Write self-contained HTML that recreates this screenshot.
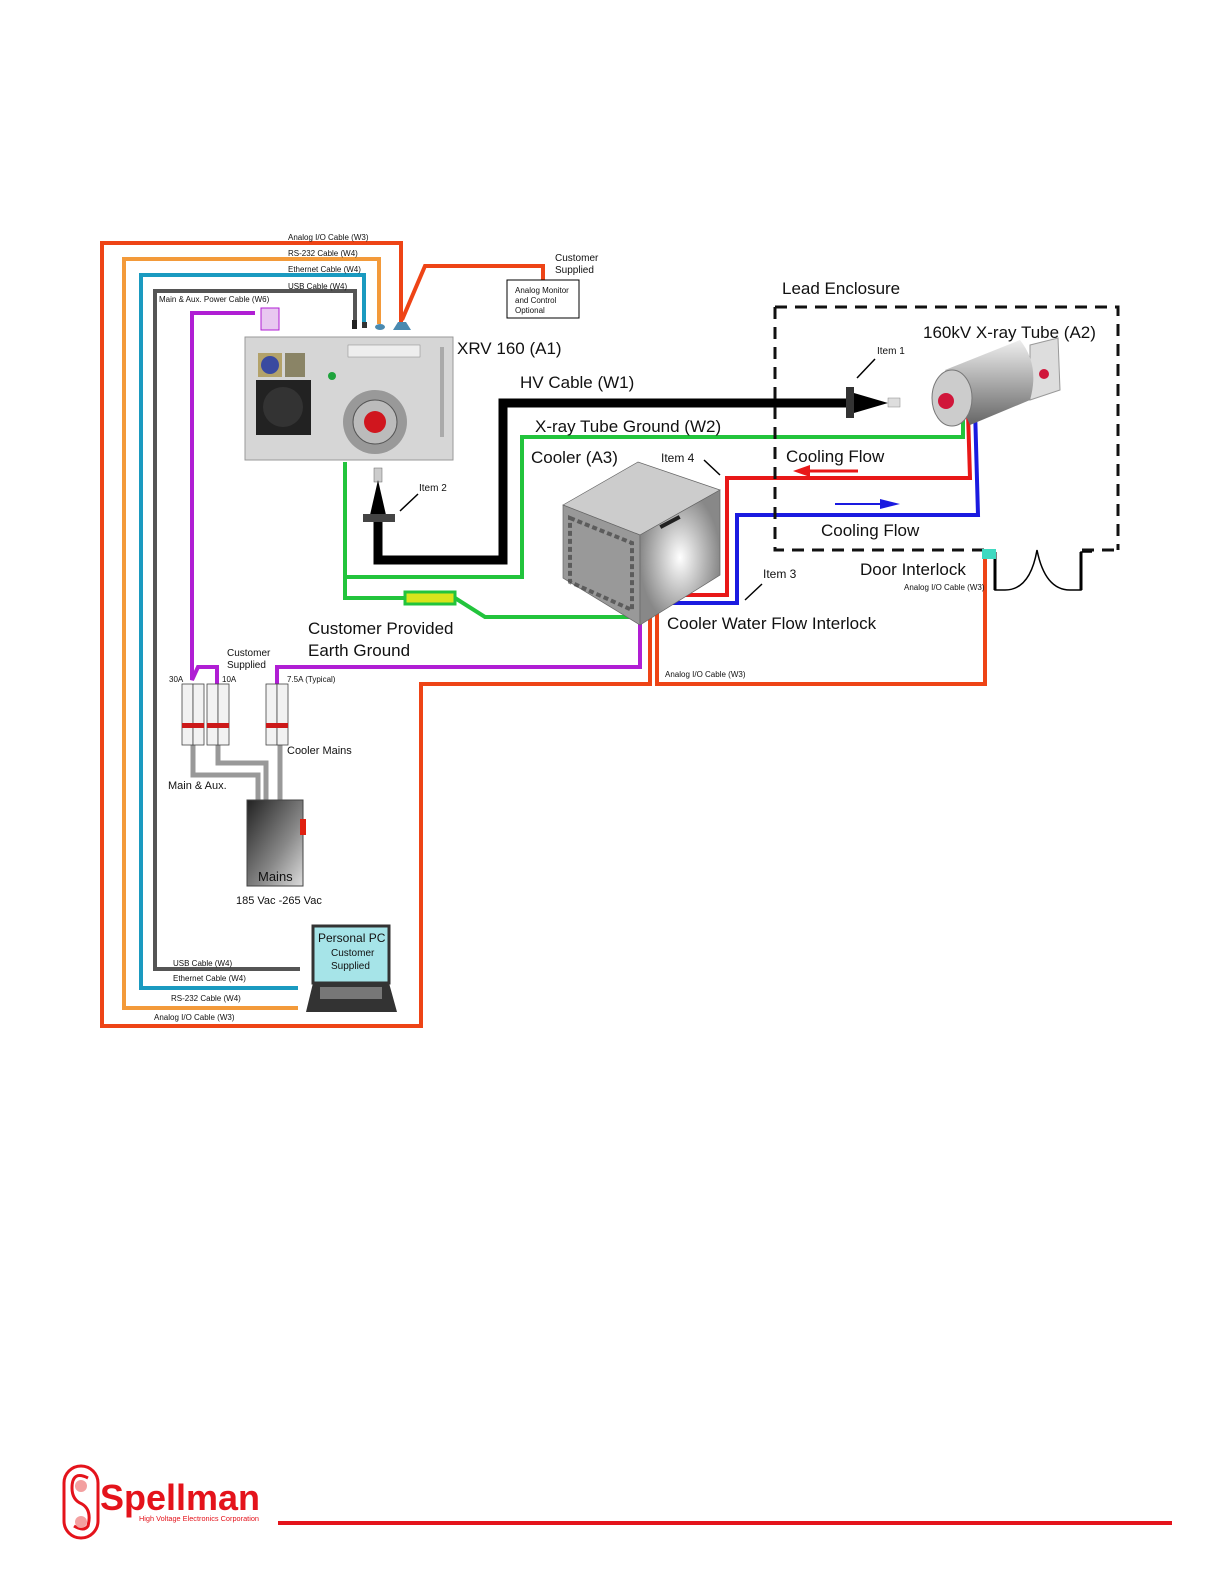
<!DOCTYPE html>
<html><head><meta charset="utf-8"><style>
html,body{margin:0;padding:0;background:#fff;overflow:hidden;width:1224px;height:1584px;}
svg{display:block;}
text{font-family:"Liberation Sans",sans-serif;fill:#111;}
</style></head><body>
<svg width="1224" height="1584" viewBox="0 0 1224 1584" xmlns="http://www.w3.org/2000/svg">
<defs>
<linearGradient id="gd" x1="0" y1="0" x2="1" y2="1"><stop offset="0" stop-color="#222"/><stop offset="0.6" stop-color="#888"/><stop offset="1" stop-color="#ddd"/></linearGradient>
<radialGradient id="rg" cx="0.5" cy="0.5" r="0.5"><stop offset="0" stop-color="#fff"/><stop offset="1" stop-color="#888"/></radialGradient>
<linearGradient id="tube" x1="0" y1="0" x2="0" y2="1"><stop offset="0" stop-color="#eee"/><stop offset="0.5" stop-color="#aaa"/><stop offset="1" stop-color="#666"/></linearGradient>
</defs>

<g fill="none" stroke-linejoin="miter">
<polyline points="401,322 401,243 102,243 102,1026 421,1026 421,684 650,684 650,605" stroke="#ee4416" stroke-width="4"/>
<polyline points="298,1008 124,1008 124,259 379,259 379,324" stroke="#f39a3a" stroke-width="4"/>
<polyline points="298,988 141,988 141,275 364,275 364,324" stroke="#1a9ac0" stroke-width="4"/>
<polyline points="300,969 155,969 155,291 355,291 355,324" stroke="#555" stroke-width="4"/>
<polyline points="255,313 192,313 192,680 198,667 217,667 217,684" stroke="#b01ed4" stroke-width="4"/>
<polyline points="277,684 277,667 640,667 640,588 650,580" stroke="#b01ed4" stroke-width="4"/>
<polyline points="402,320 425,266 543,266 543,281" stroke="#ee4416" stroke-width="4"/>
<polyline points="657,604 657,684 985,684 985,558" stroke="#ee4416" stroke-width="4"/>
<polyline points="378,522 378,560 503,560 503,403 850,403" stroke="#000" stroke-width="9"/>
<polyline points="345,462 345,577 522,577 522,437 963,437 963,420" stroke="#22c43c" stroke-width="4"/>
<polyline points="345,470 345,598 405,598" stroke="#22c43c" stroke-width="4"/>
<polyline points="455,598 485,617 636,617" stroke="#22c43c" stroke-width="4"/>
<polyline points="968,413 970,478 727,478 727,595 665,595" stroke="#e81818" stroke-width="4"/>
<polyline points="975,409 978,515 737,515 737,603 655,603" stroke="#1a1ae0" stroke-width="4"/>
<polyline points="193,745 193,775 258,775 258,800" stroke="#999" stroke-width="5"/>
<polyline points="218,745 218,763 266,763 266,800" stroke="#999" stroke-width="5"/>
<polyline points="280,745 280,800" stroke="#999" stroke-width="5"/>
<path d="M775,307 H1118 V550 M775,307 V550 H990 M1082,550 H1118" stroke="#111" stroke-width="3" stroke-dasharray="12,8"/>
<path d="M995,552 V590 H1005 Q1030,590 1037,550 Q1045,590 1070,590 H1081 V552 H1092" stroke="#000" stroke-width="1.5"/>
<path d="M995,552 V590 M1081,552 V590" stroke="#000" stroke-width="3"/>
</g>
<rect x="405" y="592" width="50" height="12" fill="#d8e41c" stroke="#22c43c" stroke-width="3"/>
<rect x="982" y="549" width="14" height="10" fill="#3fd9c0"/>

<line x1="858" y1="471" x2="805" y2="471" stroke="#e81818" stroke-width="3"/>
<polygon points="793,471 810,465 810,477" fill="#e81818"/>
<line x1="835" y1="504" x2="885" y2="504" stroke="#1a1ae0" stroke-width="2"/>
<polygon points="900,504 880,499 880,509" fill="#1a1ae0"/>

<rect x="245" y="337" width="208" height="123" fill="#d6d6d6" stroke="#999"/>
<rect x="256" y="380" width="55" height="55" fill="#222"/>
<circle cx="283" cy="407" r="20" fill="#333"/>
<rect x="258" y="353" width="24" height="24" fill="#b3a26a"/><circle cx="270" cy="365" r="9" fill="#3a4aa0"/>
<rect x="285" y="353" width="20" height="24" fill="#8a8466"/>
<circle cx="332" cy="376" r="4" fill="#1ea33c"/>
<circle cx="375" cy="422" r="32" fill="#999"/><circle cx="375" cy="422" r="22" fill="#bbb" stroke="#555"/><circle cx="375" cy="422" r="11" fill="#d0161e"/>
<rect x="348" y="345" width="72" height="12" fill="#eee" stroke="#888" stroke-width="0.5"/>
<rect x="440" y="347" width="4" height="90" fill="#aaa"/>
<rect x="352" y="320" width="5" height="9" fill="#222"/><rect x="362" y="322" width="5" height="6" fill="#333"/>
<ellipse cx="380" cy="327" rx="5" ry="3" fill="#4a8ab0"/>
<path d="M393,330 L398,322 L406,322 L411,330 Z" fill="#4a8ab0"/>
<rect x="261" y="308" width="18" height="22" fill="#e8c8f0" stroke="#b01ed4" stroke-width="1"/>

<rect x="374" y="468" width="8" height="14" fill="#ccc" stroke="#666" stroke-width="0.5"/>
<polygon points="378,480 370,515 386,515" fill="#000"/>
<rect x="363" y="514" width="32" height="8" fill="#444"/>
<line x1="400" y1="511" x2="418" y2="494" stroke="#000" stroke-width="1.5"/>
<rect x="846" y="387" width="8" height="31" fill="#333"/>
<polygon points="854,393 888,403 854,413" fill="#000"/>
<rect x="888" y="398" width="12" height="9" fill="#ddd" stroke="#888" stroke-width="0.5"/>
<line x1="857" y1="378" x2="875" y2="359" stroke="#000" stroke-width="1.5"/>
<line x1="704" y1="460" x2="720" y2="475" stroke="#000" stroke-width="1.5"/>
<line x1="745" y1="600" x2="762" y2="584" stroke="#000" stroke-width="1.5"/>

<polygon points="1030,345 1058,338 1060,390 1030,400" fill="#ddd" stroke="#999"/>
<circle cx="1044" cy="374" r="5" fill="#d0163a"/>
<path d="M945,370 L1020,340 Q1040,365 1030,400 L970,425 Z" fill="url(#tube)"/>
<ellipse cx="952" cy="398" rx="20" ry="28" fill="#ccc" stroke="#777"/>
<circle cx="946" cy="401" r="8" fill="#d0163a"/>

<polygon points="563,505 638,462 720,490 720,575 640,625 563,578" fill="#aaa"/>
<polygon points="563,505 638,462 720,490 640,535" fill="#ccc" stroke="#666" stroke-width="0.7"/>
<polygon points="563,505 640,535 640,625 563,578" fill="#999" stroke="#666" stroke-width="0.7"/>
<polygon points="640,535 720,490 720,575 640,625" fill="url(#rg)" stroke="#666" stroke-width="0.7"/>
<polygon points="570,518 632,543 632,610 570,582" fill="none" stroke="#333" stroke-dasharray="5,3" stroke-width="4" opacity="0.6"/>
<rect x="659" y="520" width="22" height="4" fill="#222" transform="rotate(-28 670 522)"/>

<rect x="507" y="280" width="72" height="38" fill="#fff" stroke="#000"/>
<text x="515" y="293" font-size="8">Analog Monitor</text>
<text x="515" y="303" font-size="8">and Control</text>
<text x="515" y="313" font-size="8">Optional</text>

<g stroke="#444" stroke-width="0.8" fill="#f2f2f2">
<rect x="182" y="684" width="11" height="61"/><rect x="193" y="684" width="11" height="61"/>
<rect x="207" y="684" width="11" height="61"/><rect x="218" y="684" width="11" height="61"/>
<rect x="266" y="684" width="11" height="61"/><rect x="277" y="684" width="11" height="61"/>
</g>
<g fill="#cc1a1a"><rect x="182" y="723" width="22" height="5"/><rect x="207" y="723" width="22" height="5"/><rect x="266" y="723" width="22" height="5"/></g>
<rect x="247" y="800" width="56" height="86" fill="url(#gd)" stroke="#444"/>
<rect x="300" y="819" width="6" height="16" fill="#e02010"/>
<text x="258" y="881" font-size="13">Mains</text>
<rect x="313" y="926" width="76" height="57" fill="#a6e4e8" stroke="#333" stroke-width="3"/>
<polygon points="313,983 389,983 397,1012 306,1012" fill="#333"/>
<rect x="320" y="987" width="62" height="12" fill="#777"/>
<text x="318" y="942" font-size="12" fill="#226">Personal PC</text>
<text x="331" y="956" font-size="10" fill="#336">Customer</text>
<text x="331" y="969" font-size="10" fill="#336">Supplied</text>

<g font-size="8">
<text x="288" y="240">Analog I/O Cable (W3)</text>
<text x="288" y="256">RS-232 Cable (W4)</text>
<text x="288" y="272">Ethernet Cable (W4)</text>
<text x="288" y="289">USB Cable (W4)</text>
<text x="159" y="302">Main &amp; Aux. Power Cable (W6)</text>
<text x="173" y="966">USB Cable (W4)</text>
<text x="173" y="981">Ethernet Cable (W4)</text>
<text x="171" y="1001">RS-232 Cable (W4)</text>
<text x="154" y="1020">Analog I/O Cable (W3)</text>
<text x="904" y="590">Analog I/O Cable (W3)</text>
<text x="665" y="677">Analog I/O Cable (W3)</text>
<text x="169" y="682">30A</text><text x="222" y="682">10A</text><text x="287" y="682">7.5A (Typical)</text>
</g>
<g font-size="10">
<text x="555" y="261">Customer</text><text x="555" y="273">Supplied</text>
<text x="227" y="656">Customer</text><text x="227" y="668">Supplied</text>
<text x="877" y="354">Item 1</text><text x="419" y="491">Item 2</text>
<text x="661" y="462" font-size="12">Item 4</text><text x="763" y="578" font-size="12">Item 3</text>
<text x="287" y="754" font-size="11">Cooler Mains</text>
<text x="168" y="789" font-size="11">Main &amp; Aux.</text>
<text x="236" y="904" font-size="11">185 Vac -265 Vac</text>
</g>
<g font-size="17">
<text x="457" y="354">XRV 160 (A1)</text>
<text x="520" y="388">HV Cable (W1)</text>
<text x="535" y="432">X-ray Tube Ground (W2)</text>
<text x="531" y="463">Cooler (A3)</text>
<text x="782" y="294">Lead Enclosure</text>
<text x="923" y="338">160kV X-ray Tube (A2)</text>
<text x="786" y="462">Cooling Flow</text>
<text x="821" y="536">Cooling Flow</text>
<text x="860" y="575">Door Interlock</text>
<text x="667" y="629">Cooler Water Flow Interlock</text>
<text x="308" y="634">Customer Provided</text>
<text x="308" y="656">Earth Ground</text>
</g>

<rect x="64" y="1466" width="34" height="72" rx="17" fill="none" stroke="#e4131b" stroke-width="3"/>
<path d="M88,1478 Q72,1470 72,1488 Q72,1500 82,1504 Q92,1510 88,1526 Q84,1532 74,1526" fill="none" stroke="#e4131b" stroke-width="3"/>
<circle cx="81" cy="1486" r="6" fill="#f3a0a0"/><circle cx="81" cy="1522" r="6" fill="#f3a0a0"/>
<text x="100" y="1510" font-size="36" font-weight="bold" style="fill:#e4131b" textLength="160" lengthAdjust="spacingAndGlyphs">Spellman</text>
<text x="139" y="1521" font-size="7" style="fill:#e4131b" textLength="120" lengthAdjust="spacingAndGlyphs">High Voltage Electronics Corporation</text>
<rect x="278" y="1521" width="894" height="4" fill="#e4131b"/>
</svg>
</body></html>
